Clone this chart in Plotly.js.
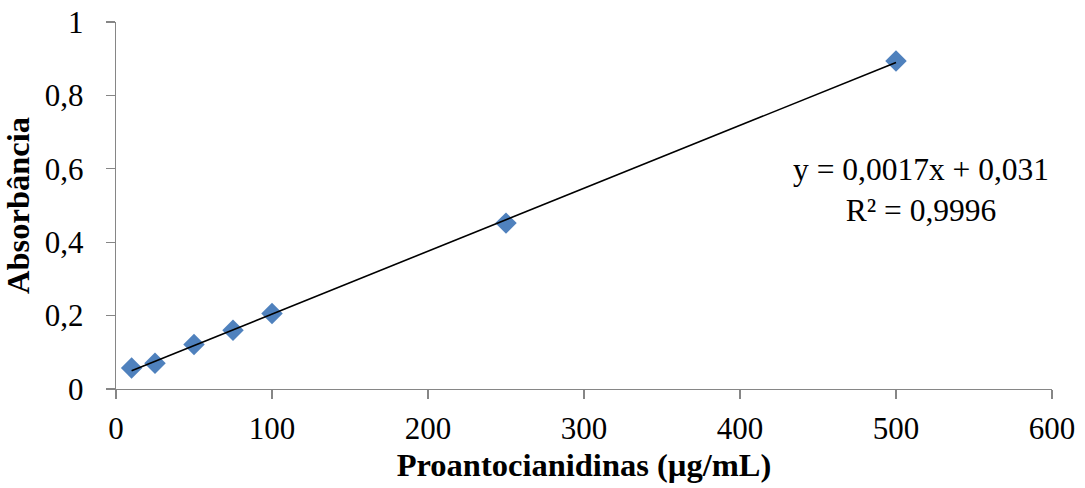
<!DOCTYPE html>
<html>
<head>
<meta charset="utf-8">
<script src="https://cdn.plot.ly/plotly-3.0.1.min.js"></script>
<style>html,body{margin:0;padding:0;background:#fff;}#chart{width:1085px;height:488px;}</style>
</head>
<body>
<div id="chart"></div>
<script>
const concentrations = [10, 25, 50, 75, 100, 250, 500];
const absorbance = [0.057, 0.070, 0.121, 0.160, 0.206, 0.452, 0.894];
const equationText = 'y = 0,0017x + 0,031<br>R² = 0,9996';
const xTicks = [0, 100, 200, 300, 400, 500, 600];
const yTicks = [0, 0.2, 0.4, 0.6, 0.8, 1];

const n = concentrations.length;
const mx = concentrations.reduce((a,b)=>a+b,0)/n;
const my = absorbance.reduce((a,b)=>a+b,0)/n;
let sxy=0, sxx=0;
for (let i=0;i<n;i++){sxy+=(concentrations[i]-mx)*(absorbance[i]-my);sxx+=(concentrations[i]-mx)**2;}
const slope = sxy/sxx, intercept = my - slope*mx;
const xMin = Math.min(...concentrations), xMax = Math.max(...concentrations);

const font = 'Liberation Serif';
const data = [
  {x: concentrations, y: absorbance, type:'scatter', mode:'markers',
   marker:{symbol:'diamond', size:16.5, color:'#4F81BD', line:{width:0}}, hoverinfo:'x+y'},
  {x:[xMin,xMax], y:[slope*xMin+intercept, slope*xMax+intercept], type:'scatter', mode:'lines',
   line:{color:'#000000', width:1.6}, hoverinfo:'skip'}
];
const layout = {
  width:1085, height:488,
  margin:{l:116, r:33, t:22, b:99},
  paper_bgcolor:'#fff', plot_bgcolor:'#fff',
  showlegend:false,
  separators:',.',
  font:{family:font, color:'#000', size:31},
  xaxis:{range:[0,600], tickvals:xTicks, ticks:'outside', ticklen:9, tickcolor:'#868686', tickwidth:1.3,
    showline:true, linecolor:'#868686', linewidth:1.3, showgrid:false, zeroline:false,
    tickfont:{family:font, size:31}, ticklabelstandoff:2,
    title:{text:'<b>Proantocianidinas (µg/mL)</b>', font:{family:font, size:32.5}, standoff:8}},
  yaxis:{range:[0,1], tickvals:yTicks, ticks:'outside', ticklen:9, tickcolor:'#868686', tickwidth:1.3,
    showline:true, linecolor:'#868686', linewidth:1.3, showgrid:false, zeroline:false,
    tickfont:{family:font, size:31}, ticklabelstandoff:16,
    title:{text:'<b>Absorbância</b>', font:{family:font, size:32.5}, standoff:6}},
  annotations:[{x:516, y:0.543, xref:'x', yref:'y', text:equationText, showarrow:false,
    font:{family:font, size:31.5, color:'#000'}, align:'center'}]
};
Plotly.newPlot('chart', data, layout, {staticPlot:true, displayModeBar:false});
</script>
</body>
</html>
